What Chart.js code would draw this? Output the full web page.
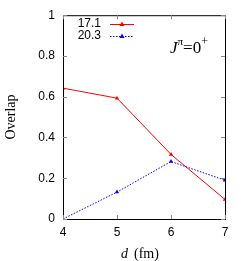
<!DOCTYPE html>
<html>
<head>
<meta charset="utf-8">
<script src="https://cdn.jsdelivr.net/npm/chart.js@4/dist/chart.umd.min.js"></script>
<style>
  html, body { margin: 0; padding: 0; background: #fff; }
  #c { display: block; }
</style>
</head>
<body>
<canvas id="c" width="249" height="261"></canvas>
<script>
// data
var dist = [4, 5, 6, 7];
var ov171 = [0.642, 0.593, 0.317, 0.096];
var ov203 = [0.0, 0.132, 0.282, 0.19];
var xTicks = [4, 5, 6, 7];
var yTicks = [0, 0.2, 0.4, 0.6, 0.8, 1];

function pts(ys) {
  return dist.map(function (d, i) { return { x: d, y: ys[i] }; });
}

// gnuplot style frame, inward ticks, legend and labels
var frame = {
  id: 'frame',
  afterDraw: function (chart) {
    var ctx = chart.ctx, a = chart.chartArea;
    var xs = chart.scales.x, ys = chart.scales.y;
    ctx.save();
    ctx.strokeStyle = '#000';
    ctx.lineWidth = 1;
    ctx.strokeRect(a.left + 0.5, a.top + 0.5, a.right - a.left, a.bottom - a.top);
    ctx.strokeStyle = '#888';
    ctx.beginPath();
    xTicks.forEach(function (t) {
      var px = Math.round(xs.getPixelForValue(t)) + 0.5;
      ctx.moveTo(px, a.bottom); ctx.lineTo(px, a.bottom - 4);
      ctx.moveTo(px, a.top); ctx.lineTo(px, a.top + 4);
    });
    yTicks.forEach(function (t) {
      var py = Math.round(ys.getPixelForValue(t)) + 0.5;
      ctx.moveTo(a.left, py); ctx.lineTo(a.left + 4, py);
      ctx.moveTo(a.right, py); ctx.lineTo(a.right - 4, py);
    });
    ctx.stroke();

    // legend
    ctx.font = '12px "Liberation Sans", Arial, sans-serif';
    ctx.textBaseline = 'middle';
    chart.data.datasets.forEach(function (ds, i) {
      var y = 24 + i * 12;
      ctx.fillStyle = '#000';
      ctx.textAlign = 'right';
      ctx.fillText(ds.label, 101, y);
      ctx.strokeStyle = ds.borderColor;
      ctx.setLineDash(ds.borderDash || []);
      ctx.beginPath();
      ctx.moveTo(110, y + 0.5); ctx.lineTo(134, y + 0.5);
      ctx.stroke();
      ctx.setLineDash([]);
      ctx.fillStyle = ds.borderColor;
      ctx.beginPath();
      ctx.moveTo(122, y - 2.5); ctx.lineTo(124.5, y + 2); ctx.lineTo(119.5, y + 2);
      ctx.closePath(); ctx.fill();
    });

    // J^pi = 0^+
    ctx.fillStyle = '#000';
    ctx.textAlign = 'left';
    ctx.textBaseline = 'alphabetic';
    ctx.font = 'italic 17px "Liberation Serif", "Times New Roman", serif';
    ctx.fillText('J', 170, 53);
    var x = 170 + ctx.measureText('J').width;
    ctx.font = '11px "Liberation Serif", serif';
    ctx.fillText('\u03c0', x, 45);
    x += ctx.measureText('\u03c0').width;
    ctx.font = '17px "Liberation Serif", serif';
    ctx.fillText('=0', x, 53);
    x += ctx.measureText('=0').width;
    ctx.font = '12px "Liberation Serif", serif';
    ctx.fillText('+', x, 45);

    // axis titles
    ctx.font = 'italic 14px "Liberation Serif", serif';
    ctx.fillText('d', 121, 258);
    ctx.font = '14px "Liberation Serif", serif';
    ctx.fillText('(fm)', 134, 258);

    ctx.translate(15, 117);
    ctx.rotate(-Math.PI / 2);
    ctx.textAlign = 'center';
    ctx.fillText('Overlap', 0, 0);
    ctx.restore();
  }
};

new Chart(document.getElementById('c'), {
  type: 'line',
  data: {
    datasets: [
      {
        label: '17.1',
        data: pts(ov171),
        borderColor: '#ff0000',
        backgroundColor: '#ff0000',
        borderWidth: 1,
        pointStyle: 'triangle',
        pointRadius: 2.5,
        pointBorderWidth: 0
      },
      {
        label: '20.3',
        data: pts(ov203),
        borderColor: '#0000ff',
        backgroundColor: '#0000ff',
        borderWidth: 1,
        borderDash: [1.5, 1.5],
        pointStyle: 'triangle',
        pointRadius: 2.5,
        pointBorderWidth: 0
      }
    ]
  },
  options: {
    responsive: false,
    animation: false,
    layout: { padding: { top: 15, right: 24, left: 0, bottom: 0 } },
    plugins: { legend: { display: false }, tooltip: { enabled: false } },
    scales: {
      x: {
        type: 'linear',
        min: 4, max: 7,
        afterFit: function (s) { s.height = 42; },
        afterBuildTicks: function (s) { s.ticks = xTicks.map(function (v) { return { value: v }; }); },
        grid: { display: false, drawTicks: false },
        border: { display: false },
        ticks: {
          color: '#000',
          padding: 6,
          font: { family: '"Liberation Sans", Arial, sans-serif', size: 12 }
        }
      },
      y: {
        min: 0, max: 1,
        afterFit: function (s) { s.width = 63; },
        afterBuildTicks: function (s) { s.ticks = yTicks.map(function (v) { return { value: v }; }); },
        grid: { display: false, drawTicks: false },
        border: { display: false },
        ticks: {
          color: '#000',
          padding: 8,
          font: { family: '"Liberation Sans", Arial, sans-serif', size: 12 },
          callback: function (v) { return String(+v.toFixed(1)); }
        }
      }
    }
  },
  plugins: [frame]
});
</script>
</body>
</html>
